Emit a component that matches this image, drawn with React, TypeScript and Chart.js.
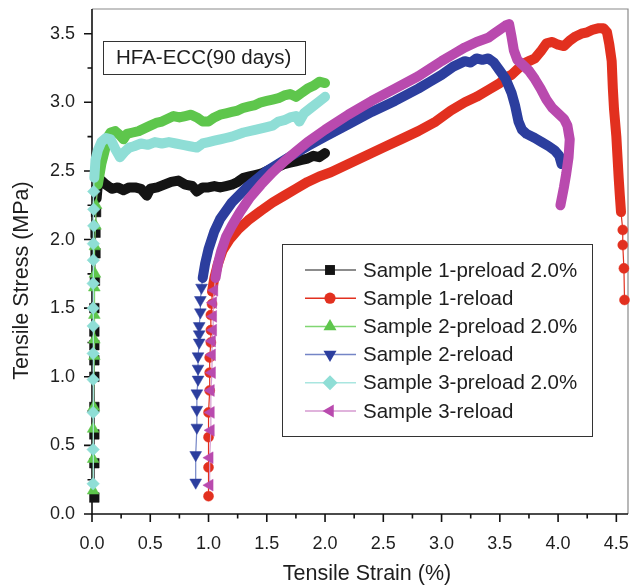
import React, { useEffect, useRef } from 'react';
import { Chart, registerables } from 'chart.js';

Chart.register(...registerables);

type Pt = [number, number];

// ---------- labels ----------
const seriesNames = [
  'Sample 1-preload 2.0%',
  'Sample 1-reload',
  'Sample 2-preload 2.0%',
  'Sample 2-reload',
  'Sample 3-preload 2.0%',
  'Sample 3-reload',
];
const boxTitle = 'HFA-ECC(90 days)';
const xTitle = 'Tensile Strain (%)';
const yTitle = 'Tensile Stress (MPa)';

// ---------- ticks ----------
const xTickValues = [0, 0.5, 1.0, 1.5, 2.0, 2.5, 3.0, 3.5, 4.0, 4.5];
const xMinorValues = [0.25, 0.75, 1.25, 1.75, 2.25, 2.75, 3.25, 3.75, 4.25];
const yTickValues = [0, 0.5, 1.0, 1.5, 2.0, 2.5, 3.0, 3.5];
const yMinorValues = [0.25, 0.75, 1.25, 1.75, 2.25, 2.75, 3.25];
const xRange: Pt = [0, 4.6];
const yRange: Pt = [0, 3.68];

// ---------- Sample 1 preload ----------
const s1PreloadRise: Pt[] = [
  [0.02, 0.12], [0.02, 0.37], [0.02, 0.58], [0.02, 0.78], [0.02, 1.0], [0.02, 1.12],
  [0.02, 1.23], [0.02, 1.33], [0.02, 1.5], [0.025, 1.7], [0.03, 1.9], [0.03, 2.05], [0.035, 2.2],
];
const s1PreloadBand: Pt[] = [
  [0.04, 2.3], [0.05, 2.4], [0.08, 2.43], [0.12, 2.4], [0.17, 2.37], [0.22, 2.38], [0.27, 2.36],
  [0.32, 2.38], [0.37, 2.38], [0.42, 2.37], [0.47, 2.32], [0.5, 2.37], [0.56, 2.38], [0.62, 2.4],
  [0.68, 2.42], [0.74, 2.43], [0.8, 2.4], [0.86, 2.39], [0.9, 2.35], [0.95, 2.38], [1.0, 2.38],
  [1.05, 2.39], [1.1, 2.38], [1.15, 2.39], [1.2, 2.4], [1.25, 2.42], [1.3, 2.45], [1.35, 2.46],
  [1.4, 2.47], [1.45, 2.48], [1.5, 2.5], [1.55, 2.52], [1.6, 2.53], [1.65, 2.55], [1.7, 2.56],
  [1.75, 2.57], [1.8, 2.58], [1.85, 2.59], [1.9, 2.61], [1.95, 2.6], [2.0, 2.63],
];
const s1PreloadTail: Pt[] = [];

// ---------- Sample 1 reload ----------
const s1ReloadRise: Pt[] = [
  [1.0, 0.13], [1.0, 0.34], [1.0, 0.56], [1.0, 0.74], [1.01, 0.9], [1.01, 1.03], [1.01, 1.14],
  [1.02, 1.25], [1.02, 1.34], [1.02, 1.45], [1.03, 1.53],
];
const s1ReloadBand: Pt[] = [
  [1.03, 1.62], [1.05, 1.72], [1.08, 1.82], [1.12, 1.92], [1.18, 2.0], [1.25, 2.07], [1.34, 2.14],
  [1.45, 2.21], [1.55, 2.27], [1.65, 2.32], [1.75, 2.37], [1.85, 2.42], [1.95, 2.46], [2.05, 2.49],
  [2.2, 2.55], [2.35, 2.61], [2.5, 2.67], [2.65, 2.73], [2.8, 2.79], [2.95, 2.86], [3.08, 2.94],
  [3.2, 3.0], [3.3, 3.04], [3.4, 3.09], [3.5, 3.14], [3.55, 3.18], [3.6, 3.2], [3.65, 3.24],
  [3.7, 3.28], [3.75, 3.3], [3.8, 3.32], [3.85, 3.37], [3.9, 3.43], [3.95, 3.44], [4.0, 3.42],
  [4.05, 3.41], [4.1, 3.45], [4.15, 3.48], [4.2, 3.5], [4.25, 3.51], [4.3, 3.53], [4.35, 3.54],
  [4.39, 3.54], [4.42, 3.51], [4.44, 3.42], [4.46, 3.3], [4.47, 3.1], [4.48, 2.95], [4.5, 2.75],
  [4.51, 2.6], [4.52, 2.45], [4.53, 2.32], [4.54, 2.2],
];
const s1ReloadTail: Pt[] = [[4.555, 2.07], [4.555, 1.96], [4.565, 1.79], [4.57, 1.56]];

// ---------- Sample 2 preload ----------
const s2PreloadRise: Pt[] = [
  [0.01, 0.17], [0.01, 0.4], [0.01, 0.62], [0.015, 0.78], [0.02, 1.15], [0.02, 1.27], [0.02, 1.45],
  [0.02, 1.65], [0.025, 1.75], [0.025, 1.95], [0.03, 2.1], [0.035, 2.25],
];
const s2PreloadBand: Pt[] = [
  [0.05, 2.4], [0.08, 2.55], [0.11, 2.65], [0.13, 2.74], [0.16, 2.78], [0.2, 2.79], [0.24, 2.76],
  [0.27, 2.73], [0.3, 2.77], [0.35, 2.78], [0.4, 2.79], [0.45, 2.81], [0.5, 2.83], [0.55, 2.85],
  [0.6, 2.86], [0.65, 2.88], [0.7, 2.9], [0.75, 2.89], [0.8, 2.9], [0.85, 2.91], [0.9, 2.89],
  [0.95, 2.86], [1.0, 2.86], [1.05, 2.89], [1.1, 2.91], [1.15, 2.92], [1.2, 2.93], [1.25, 2.94],
  [1.3, 2.96], [1.35, 2.97], [1.4, 2.98], [1.45, 3.0], [1.5, 3.01], [1.55, 3.02], [1.6, 3.03],
  [1.65, 3.05], [1.7, 3.06], [1.75, 3.04], [1.8, 3.07], [1.85, 3.1], [1.9, 3.12], [1.95, 3.15],
  [2.0, 3.14],
];
const s2PreloadTail: Pt[] = [];

// ---------- Sample 2 reload ----------
const s2ReloadRise: Pt[] = [
  [0.89, 0.23], [0.89, 0.43], [0.9, 0.63], [0.9, 0.76], [0.9, 0.88], [0.91, 0.98], [0.91, 1.06],
  [0.91, 1.15], [0.92, 1.25], [0.92, 1.31], [0.92, 1.37], [0.93, 1.47], [0.93, 1.56], [0.94, 1.65],
];
const s2ReloadBand: Pt[] = [
  [0.95, 1.72], [0.97, 1.82], [1.0, 1.93], [1.05, 2.06], [1.1, 2.15], [1.2, 2.27], [1.34, 2.39],
  [1.5, 2.5], [1.69, 2.6], [1.85, 2.68], [2.0, 2.75], [2.2, 2.84], [2.4, 2.93], [2.6, 3.01],
  [2.8, 3.1], [2.9, 3.15], [3.0, 3.2], [3.1, 3.26], [3.2, 3.3], [3.25, 3.29], [3.3, 3.32],
  [3.35, 3.31], [3.4, 3.32], [3.45, 3.29], [3.5, 3.23], [3.55, 3.17], [3.6, 3.07], [3.63, 2.98],
  [3.66, 2.86], [3.69, 2.8], [3.73, 2.77], [3.8, 2.74], [3.86, 2.71], [3.92, 2.68], [3.97, 2.65],
  [4.01, 2.61], [4.03, 2.55],
];
const s2ReloadTail: Pt[] = [];

// ---------- Sample 3 preload ----------
const s3PreloadRise: Pt[] = [
  [0.01, 0.22], [0.01, 0.47], [0.01, 0.74], [0.01, 0.98], [0.01, 1.17], [0.01, 1.37], [0.01, 1.5],
  [0.01, 1.68], [0.012, 1.85], [0.012, 1.97], [0.015, 2.1], [0.015, 2.22], [0.015, 2.35],
];
const s3PreloadBand: Pt[] = [
  [0.02, 2.45], [0.03, 2.58], [0.05, 2.65], [0.08, 2.71], [0.12, 2.74], [0.16, 2.73], [0.2, 2.66],
  [0.24, 2.6], [0.28, 2.64], [0.32, 2.67], [0.36, 2.68], [0.42, 2.7], [0.48, 2.69], [0.54, 2.71],
  [0.6, 2.7], [0.66, 2.71], [0.72, 2.7], [0.78, 2.69], [0.84, 2.68], [0.9, 2.67], [0.95, 2.7],
  [1.0, 2.71], [1.05, 2.72], [1.1, 2.73], [1.15, 2.74], [1.2, 2.75], [1.3, 2.78], [1.4, 2.8],
  [1.5, 2.82], [1.55, 2.83], [1.6, 2.86], [1.65, 2.87], [1.7, 2.89], [1.75, 2.9], [1.78, 2.86],
  [1.82, 2.92], [1.88, 2.96], [1.94, 3.0], [2.0, 3.04],
];
const s3PreloadTail: Pt[] = [];

// ---------- Sample 3 reload ----------
const s3ReloadRise: Pt[] = [
  [1.01, 0.21], [1.01, 0.41], [1.02, 0.61], [1.02, 0.74], [1.02, 0.9], [1.03, 1.03], [1.03, 1.16],
  [1.03, 1.26], [1.04, 1.34], [1.04, 1.44], [1.04, 1.54], [1.05, 1.63],
];
const s3ReloadBand: Pt[] = [
  [1.06, 1.72], [1.08, 1.82], [1.11, 1.92], [1.15, 2.02], [1.2, 2.1], [1.27, 2.2], [1.35, 2.3],
  [1.45, 2.4], [1.55, 2.49], [1.65, 2.57], [1.75, 2.64], [1.85, 2.71], [2.0, 2.8], [2.2, 2.91],
  [2.4, 3.01], [2.6, 3.1], [2.8, 3.19], [3.0, 3.3], [3.1, 3.35], [3.2, 3.4], [3.3, 3.44],
  [3.4, 3.47], [3.45, 3.5], [3.5, 3.53], [3.55, 3.56], [3.58, 3.57], [3.6, 3.48], [3.62, 3.38],
  [3.65, 3.31], [3.7, 3.27], [3.75, 3.23], [3.8, 3.17], [3.85, 3.1], [3.9, 3.02], [3.95, 2.96],
  [4.0, 2.92], [4.05, 2.88], [4.08, 2.83], [4.1, 2.73], [4.09, 2.6], [4.07, 2.48], [4.05, 2.38],
  [4.02, 2.25],
];
const s3ReloadTail: Pt[] = [];

const seriesParts: { rise: Pt[]; band: Pt[]; tail: Pt[] }[] = [
  { rise: s1PreloadRise, band: s1PreloadBand, tail: s1PreloadTail },
  { rise: s1ReloadRise, band: s1ReloadBand, tail: s1ReloadTail },
  { rise: s2PreloadRise, band: s2PreloadBand, tail: s2PreloadTail },
  { rise: s2ReloadRise, band: s2ReloadBand, tail: s2ReloadTail },
  { rise: s3PreloadRise, band: s3PreloadBand, tail: s3PreloadTail },
  { rise: s3ReloadRise, band: s3ReloadBand, tail: s3ReloadTail },
];

// ---------- styles ----------
const seriesStyle = [
  { fill: '#141414', line: '#666666', shape: 'rect', rotation: 0, radius: 6.8, legend: 7 },
  { fill: '#e2301f', line: '#e2301f', shape: 'circle', rotation: 0, radius: 5, legend: 5.6 },
  { fill: '#5ec64c', line: '#80d672', shape: 'triangle', rotation: 0, radius: 6.8, legend: 7.5 },
  { fill: '#2c3e9e', line: '#7485c6', shape: 'triangle', rotation: 180, radius: 6.8, legend: 7.5 },
  { fill: '#8fded6', line: '#a9e6e0', shape: 'rectRot', rotation: 0, radius: 6.3, legend: 7.5 },
  { fill: '#b94aae', line: '#d69ad0', shape: 'triangle', rotation: -90, radius: 6.8, legend: 7.5 },
];
const BAND_W = 10;
const FONT = '"Liberation Sans", Arial, Helvetica, sans-serif';
const TEXT = '#1e1e1e';

function drawMarker(ctx: CanvasRenderingContext2D, shape: string, rotation: number, x: number, y: number, r: number) {
  ctx.save();
  ctx.translate(x, y);
  ctx.rotate((rotation * Math.PI) / 180);
  ctx.beginPath();
  if (shape === 'rect') {
    const s = r * Math.SQRT1_2;
    ctx.rect(-s, -s, 2 * s, 2 * s);
  } else if (shape === 'circle') {
    ctx.arc(0, 0, r, 0, Math.PI * 2);
  } else if (shape === 'rectRot') {
    ctx.moveTo(-r, 0);
    ctx.lineTo(0, -r);
    ctx.lineTo(r, 0);
    ctx.lineTo(0, r);
    ctx.closePath();
  } else {
    for (let k = 0; k < 3; k++) {
      const a = (k * 2 * Math.PI) / 3;
      const px = Math.sin(a) * r;
      const py = -Math.cos(a) * r;
      if (k === 0) ctx.moveTo(px, py);
      else ctx.lineTo(px, py);
    }
    ctx.closePath();
  }
  ctx.fill();
  ctx.restore();
}

const framePlugin = {
  id: 'frame',
  beforeDatasetsDraw(chart: any) {
    const { ctx, chartArea: a, scales } = chart;
    const xs = scales.x;
    const ys = scales.y;
    ctx.save();
    ctx.strokeStyle = '#8a8a8a';
    ctx.lineWidth = 1.2;
    ctx.beginPath();
    ctx.moveTo(a.left, a.top);
    ctx.lineTo(a.right, a.top);
    ctx.lineTo(a.right, a.bottom);
    ctx.stroke();
    ctx.strokeStyle = '#111';
    ctx.lineWidth = 1.6;
    ctx.beginPath();
    ctx.moveTo(a.left, a.top);
    ctx.lineTo(a.left, a.bottom);
    ctx.lineTo(a.right, a.bottom);
    ctx.stroke();
    ctx.beginPath();
    xTickValues.forEach((v) => {
      const p = xs.getPixelForValue(v);
      ctx.moveTo(p, a.bottom);
      ctx.lineTo(p, a.bottom + 8);
    });
    xMinorValues.forEach((v) => {
      const p = xs.getPixelForValue(v);
      ctx.moveTo(p, a.bottom);
      ctx.lineTo(p, a.bottom + 4.5);
    });
    yTickValues.forEach((v) => {
      const p = ys.getPixelForValue(v);
      ctx.moveTo(a.left, p);
      ctx.lineTo(a.left - 8, p);
    });
    yMinorValues.forEach((v) => {
      const p = ys.getPixelForValue(v);
      ctx.moveTo(a.left, p);
      ctx.lineTo(a.left - 4.5, p);
    });
    ctx.stroke();

    // axis titles
    ctx.fillStyle = TEXT;
    ctx.font = `21.5px ${FONT}`;
    ctx.textAlign = 'center';
    ctx.textBaseline = 'middle';
    ctx.fillText(xTitle, (a.left + a.right) / 2 + 7, a.bottom + 60);
    ctx.save();
    ctx.translate(22, (a.top + a.bottom) / 2 + 19);
    ctx.rotate(-Math.PI / 2);
    ctx.fillText(yTitle, 0, 0);
    ctx.restore();
    ctx.restore();
  },
  afterDatasetsDraw(chart: any) {
    const { ctx, chartArea: a } = chart;
    ctx.save();
    // title box
    const tb = { l: a.left + 11, t: a.top + 32, w: 202, h: 33 };
    ctx.fillStyle = '#fff';
    ctx.fillRect(tb.l, tb.t, tb.w, tb.h);
    ctx.strokeStyle = '#333';
    ctx.lineWidth = 1;
    ctx.strokeRect(tb.l + 0.5, tb.t + 0.5, tb.w, tb.h);
    ctx.fillStyle = TEXT;
    ctx.font = `20.5px ${FONT}`;
    ctx.textBaseline = 'middle';
    ctx.textAlign = 'left';
    ctx.fillText(boxTitle, tb.l + 13, tb.t + tb.h / 2 + 1);

    // legend box
    const lb = { l: a.left + 190, t: a.top + 235, w: 310, h: 192 };
    ctx.fillStyle = '#fff';
    ctx.fillRect(lb.l, lb.t, lb.w, lb.h);
    ctx.strokeStyle = '#333';
    ctx.strokeRect(lb.l + 0.5, lb.t + 0.5, lb.w, lb.h);
    seriesNames.forEach((name, i) => {
      const st = seriesStyle[i];
      const y = lb.t + 26 + i * 28.2;
      ctx.strokeStyle = st.line;
      ctx.lineWidth = 1.5;
      ctx.beginPath();
      ctx.moveTo(lb.l + 23, y);
      ctx.lineTo(lb.l + 74, y);
      ctx.stroke();
      ctx.fillStyle = st.fill;
      drawMarker(ctx, st.shape, st.rotation, lb.l + 48, y, st.legend);
      ctx.fillStyle = TEXT;
      ctx.fillText(name, lb.l + 81, y + 1);
    });
    ctx.restore();
  },
};

export default function App() {
  const ref = useRef<HTMLCanvasElement | null>(null);
  useEffect(() => {
    document.body.style.margin = '0';
    if (!ref.current) return;
    const n = seriesParts.length;
    const datasets = seriesParts.map((s, i) => {
      const st = seriesStyle[i];
      const data = [...s.rise, ...s.band, ...s.tail].map(([x, y]) => ({ x, y }));
      const from = s.rise.length;
      const to = from + s.band.length - 1;
      const inBand = (k: number) => k >= from && k <= to;
      return {
        label: seriesNames[i],
        data,
        order: n - i,
        clip: false as any,
        borderColor: st.line,
        backgroundColor: st.fill,
        borderWidth: 1.2,
        borderCapStyle: 'round' as const,
        borderJoinStyle: 'round' as const,
        tension: 0,
        pointStyle: st.shape as any,
        pointRotation: st.rotation,
        pointRadius: (c: any) => (inBand(c.dataIndex) ? 0 : st.radius),
        pointHoverRadius: 0,
        pointBackgroundColor: st.fill,
        pointBorderColor: st.fill,
        pointBorderWidth: 0.5,
        segment: {
          borderWidth: (c: any) => (inBand(c.p0DataIndex) && inBand(c.p1DataIndex) ? BAND_W : 1.2),
          borderColor: (c: any) => (inBand(c.p0DataIndex) && inBand(c.p1DataIndex) ? st.fill : st.line),
        },
      };
    });

    const chart = new Chart(ref.current, {
      type: 'line',
      data: { datasets: datasets as any },
      options: {
        animation: false,
        responsive: true,
        maintainAspectRatio: false,
        events: [],
        layout: { padding: { top: 9, right: 16, left: 0, bottom: 0 } },
        plugins: { legend: { display: false }, tooltip: { enabled: false } },
        scales: {
          x: {
            type: 'linear',
            min: xRange[0],
            max: xRange[1],
            grid: { display: false, drawTicks: false },
            border: { display: false },
            afterBuildTicks: (sc: any) => {
              sc.ticks = xTickValues.map((v) => ({ value: v }));
            },
            afterFit: (sc: any) => {
              sc.height = 73;
              sc.paddingLeft = 0;
              sc.paddingRight = 0;
              sc.paddingTop = 0;
              sc.paddingBottom = 0;
            },
            ticks: {
              autoSkip: false,
              maxRotation: 0,
              padding: 19,
              color: TEXT,
              font: { family: FONT, size: 18 },
              callback: (v: any) => Number(v).toFixed(1),
            },
          },
          y: {
            type: 'linear',
            min: yRange[0],
            max: yRange[1],
            grid: { display: false, drawTicks: false },
            border: { display: false },
            afterBuildTicks: (sc: any) => {
              sc.ticks = yTickValues.map((v) => ({ value: v }));
            },
            afterFit: (sc: any) => {
              sc.width = 92;
              sc.paddingLeft = 0;
              sc.paddingRight = 0;
              sc.paddingTop = 0;
              sc.paddingBottom = 0;
            },
            ticks: {
              autoSkip: false,
              padding: 17,
              color: TEXT,
              font: { family: FONT, size: 18 },
              callback: (v: any) => Number(v).toFixed(1),
            },
          },
        },
      },
      plugins: [framePlugin],
    });
    return () => chart.destroy();
  }, []);

  return (
    <div style={{ width: 644, height: 587, position: 'relative' }}>
      <canvas ref={ref} />
    </div>
  );
}
